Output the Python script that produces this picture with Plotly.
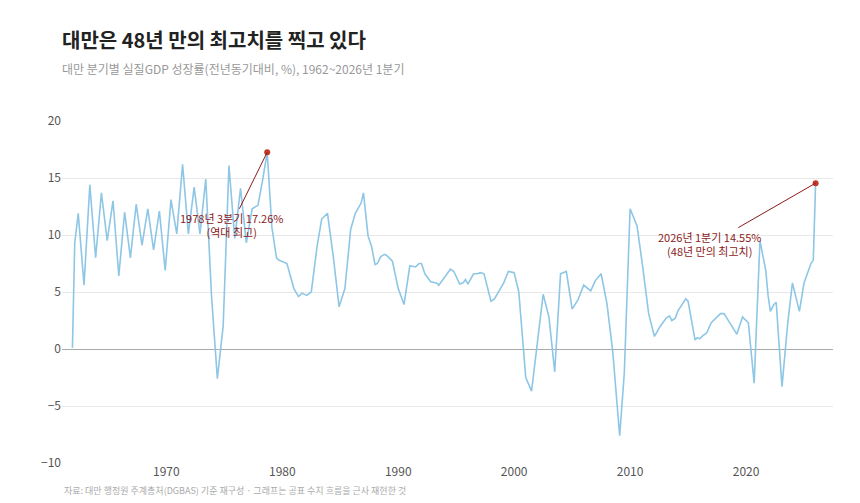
import plotly.graph_objects as go

# 분기 시점(연도 환산)과 실질GDP 성장률(%)
years = [1961.9, 1962.1, 1962.4, 1962.9, 1963.4, 1963.9, 1964.4, 1964.9, 1965.4, 1965.9,
         1966.4, 1966.9, 1967.4, 1967.9, 1968.4, 1968.9, 1969.4, 1969.9, 1970.4, 1970.9,
         1971.4, 1971.9, 1972.4, 1972.9, 1973.4, 1973.9, 1974.4, 1974.9, 1975.4, 1975.9,
         1976.4, 1976.9, 1977.4, 1977.9, 1978.3, 1978.7, 1979.1, 1979.5, 1979.7, 1980.4,
         1981.0, 1981.4, 1981.7, 1982.1, 1982.5, 1983.0, 1983.4, 1983.9, 1984.4, 1984.9,
         1985.4, 1985.9, 1986.3, 1986.6, 1986.8, 1987.0, 1987.4, 1987.7, 1988.0, 1988.2,
         1988.5, 1988.8, 1989.0, 1989.3, 1989.5, 1990.0, 1990.5, 1991.0, 1991.5, 1991.8,
         1992.0, 1992.3, 1992.8, 1993.3, 1993.5, 1994.0, 1994.5, 1994.8, 1995.3, 1995.6,
         1995.8, 1996.0, 1996.5, 1996.8, 1997.1, 1997.4, 1998.0, 1998.3, 1998.8, 1999.1,
         1999.5, 2000.0, 2000.4, 2001.0, 2001.5, 2002.0, 2002.5, 2003.0, 2003.5, 2004.0,
         2004.5, 2005.0, 2005.5, 2006.0, 2006.6, 2007.0, 2007.5, 2008.0, 2008.5, 2009.1,
         2009.5, 2010.0, 2010.6, 2011.1, 2011.6, 2012.1, 2012.6, 2013.1, 2013.4, 2013.6,
         2013.9, 2014.1, 2014.5, 2014.8, 2015.0, 2015.6, 2015.8, 2016.0, 2016.3, 2016.6,
         2017.0, 2017.5, 2017.8, 2018.1, 2018.6, 2019.2, 2019.7, 2020.2, 2020.7, 2021.2,
         2021.7, 2021.9, 2022.1, 2022.4, 2022.6, 2023.1, 2023.6, 2024.0, 2024.6, 2025.0,
         2025.6, 2025.8, 2026.0]
growth = [0.1, 9.3, 11.9, 5.6, 14.4, 8.0, 13.7, 9.5, 13.0, 6.4,
          12.0, 8.0, 12.7, 9.1, 12.3, 8.7, 12.1, 6.9, 13.1, 10.1,
          16.2, 10.1, 14.2, 10.1, 14.9, 4.6, -2.6, 2.0, 16.1, 9.7,
          14.1, 9.3, 12.3, 12.6, 14.8, 17.26, 10.7, 8.0, 7.8, 7.5,
          5.3, 4.6, 4.9, 4.7, 5.0, 9.0, 11.4, 11.9, 8.1, 3.7,
          5.3, 10.5, 11.9, 12.5, 12.8, 13.7, 9.9, 9.0, 7.4, 7.5,
          8.1, 8.3, 8.2, 7.9, 7.7, 5.3, 3.9, 7.3, 7.2, 7.5,
          7.5, 6.6, 5.9, 5.8, 5.6, 6.3, 7.0, 6.8, 5.7, 5.8,
          6.1, 5.7, 6.6, 6.6, 6.7, 6.6, 4.2, 4.4, 5.3, 5.8,
          6.8, 6.7, 5.0, -2.5, -3.7, 0.8, 4.8, 2.8, -2.0, 6.6,
          6.8, 3.5, 4.3, 5.6, 5.1, 6.0, 6.6, 4.0, -0.2, -7.6,
          -2.1, 12.3, 10.8, 7.1, 3.1, 1.1, 2.0, 2.7, 2.9, 2.5,
          2.7, 3.3, 4.0, 4.4, 4.2, 0.8, 1.0, 0.9, 1.2, 1.4,
          2.3, 2.8, 3.1, 3.1, 2.3, 1.3, 2.8, 2.3, -3.0, 9.5,
          6.9, 4.7, 3.3, 3.9, 4.1, -3.3, 2.3, 5.8, 3.3, 5.8,
          7.5, 7.8, 14.55]
highlight_x = [1978.7, 2026.0]
highlight_y = [17.26, 14.55]
highlight_text = ['1978년 3분기 17.26%<br>(역대 최고)', '2026년 1분기 14.55%<br>(48년 만의 최고치)']
tick_years = [1970, 1980, 1990, 2000, 2010, 2020]

font = 'Noto Sans CJK KR'

line_trace = go.Scatter(
    x=years, y=growth,
    mode='lines',
    line=dict(color='#8ec6e6', width=1.6),
    hoverinfo='x+y'
)

point_trace = go.Scatter(
    x=highlight_x, y=highlight_y,
    mode='markers',
    marker=dict(color='#c0392b', size=6)
)

layout = go.Layout(
    showlegend=False,
    width=852, height=495,  # 페이지 기본 여백(8px) 감안
    plot_bgcolor='white', paper_bgcolor='white',
    margin=dict(l=54, r=27, t=113, b=40),
    font=dict(family=font, color='#555'),
    title=dict(text='<b>대만은 48년 만의 최고치를 찍고 있다</b>'
                    '<br><span style="font-size:12px;color:#999">대만 분기별 실질GDP 성장률(전년동기대비, %), 1962~2026년 1분기</span>',
               x=0, xref='paper', y=0.92, yanchor='top',
               font=dict(size=20, color='#222', family=font)),
    xaxis=dict(range=[1961.0, 2027.5], tickvals=tick_years, showgrid=False,
               zeroline=False, ticks='', tickfont=dict(size=12, color='#555')),
    yaxis=dict(range=[-10, 20], dtick=5, gridcolor='#e8e8e8', zeroline=True,
               zerolinecolor='#aaa', zerolinewidth=1.2, tickfont=dict(size=12, color='#555')),
)

fig = go.Figure(data=[line_trace, point_trace], layout=layout)

offsets = [(-36, 73), (-106, 61)]
for hx, hy, txt, (ax, ay) in zip(highlight_x, highlight_y, highlight_text, offsets):
    fig.add_annotation(x=hx, y=hy, text=txt, showarrow=True, arrowhead=0,
                       arrowcolor='#8b1a1a', arrowwidth=1, ax=ax, ay=ay,
                       font=dict(size=11, color='#8b1a1a', family=font))

fig.add_annotation(text='자료: 대만 행정원 주계총처(DGBAS) 기준 재구성 · 그래프는 공표 수치 흐름을 근사 재현한 것',
                   xref='paper', yref='paper', x=0, y=-0.08, xanchor='left', yanchor='middle',
                   showarrow=False, font=dict(size=9, color='#aaa', family=font))

fig.write_html('out.html')
